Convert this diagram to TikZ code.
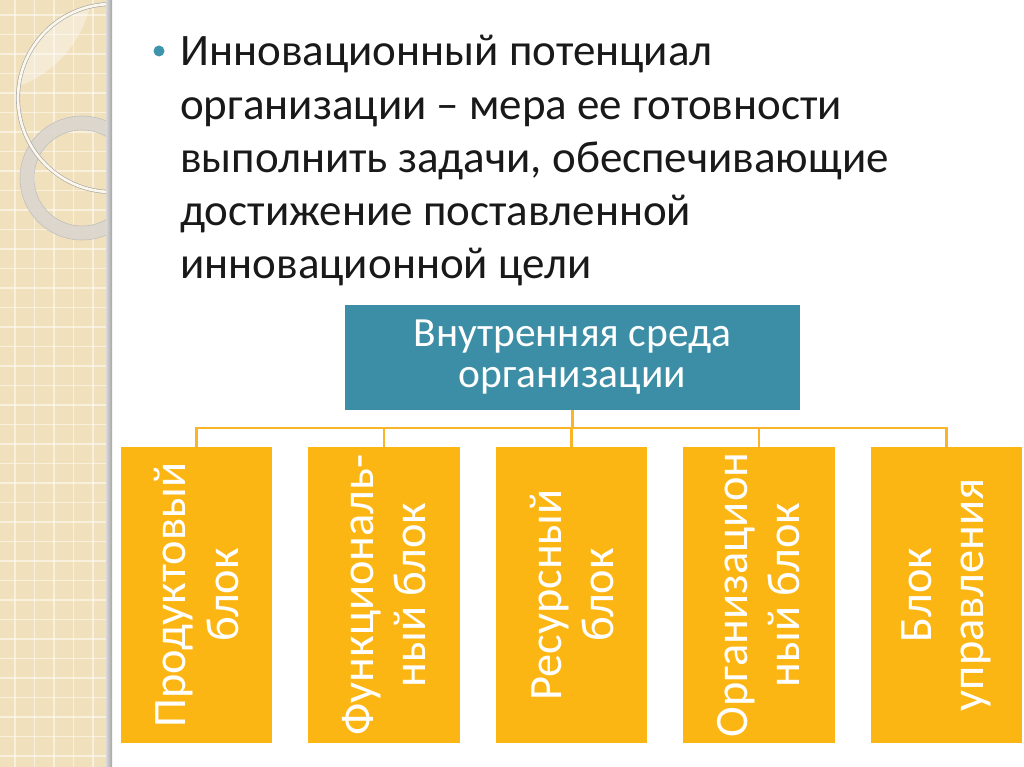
\documentclass[tikz,border=0pt]{standalone}
\usepackage{fontspec}
\setmainfont{Carlito}

\definecolor{envteal}{RGB}{59,142,165}
\definecolor{bulletteal}{RGB}{62,148,172}
\definecolor{blockgold}{RGB}{252,182,20}
\definecolor{linkgold}{RGB}{250,180,40}
\definecolor{stripbeige}{RGB}{241,224,188}
\definecolor{ringgray}{RGB}{218,214,206}
\definecolor{ringcream}{RGB}{251,247,236}

\begin{document}
\begin{tikzpicture}[x=0.025cm, y=-0.025cm]
    \tikzstyle{block}=[rectangle, fill=blockgold, text=white, rotate=90, minimum width=7.4cm, minimum height=3.775cm, inner sep=0pt, align=flush center, font=\fontsize{33}{37}\selectfont]
    \tikzstyle{env}=[rectangle, fill=envteal, text=white, minimum width=11.375cm, minimum height=2.625cm, inner sep=0pt, align=flush center, font=\fontsize{29.5}{29.2}\selectfont]
    \tikzstyle{defn}=[anchor=base west, inner sep=0pt, text width=20cm, align=flush left, text=black!90, font=\fontsize{32}{37.7}\selectfont]
    \tikzstyle{link}=[draw=linkgold, line width=1.8pt]

    \useasboundingbox (0,0) rectangle (1024,767);
    \fill[white] (0,0) rectangle (1024,767);

    % Decorative strip on the left
    \begin{scope}
        \clip (0,0) rectangle (110,767);
        \fill[stripbeige] (0,0) rectangle (110,767);
        \foreach \g in {15,34.5,...,800} {
            \draw[white, opacity=0.5, line width=0.8pt] (\g,0) -- (\g,767);
            \draw[white, opacity=0.5, line width=0.8pt] (0,\g) -- (110,\g);
        }
        \begin{scope}
            \clip (112,98) circle[radius=94];
            \fill[white, opacity=0.35] (-20,-20) circle[radius=113];
        \end{scope}
        \draw[ringgray, opacity=0.9, line width=10pt] (82,178) circle[radius=55];
        \draw[black!25, line width=0.4pt] (82,178) circle[radius=62];
        \draw[black!25, line width=0.4pt] (82,178) circle[radius=48];
        \draw[black!35, line width=2.8pt] (112,98) circle[radius=94];
        \draw[ringcream, line width=1.9pt] (112,98) circle[radius=94];
    \end{scope}
    \shade[left color=black!15, right color=black!35] (106,0) rectangle (112,767);

    % Bullet text
    \fill[bulletteal] (159,51) circle[radius=5.5];
    \node[defn] (defn) at (180,66) {Инновационный потенциал\\организации – мера ее готовности\\выполнить задачи, обеспечивающие\\достижение поставленной\\инновационной цели};

    % Tree
    \node[env] (env) at (572.5,357.5) {Внутренняя среда\\организации};
    \node[block] (b1) at (196.5,595) {Продуктовый\\блок};
    \node[block] (b2) at (384,595) {Функциональ-\\ный блок};
    \node[block] (b3) at (571.5,595) {Ресурсный\\блок};
    \node[block] (b4) at (759,595) {Организацион\\ный блок};
    \node[block] (b5) at (946.5,595) {Блок\\управления};

    \coordinate (bus) at (572.5,428);
    \draw[link] (env.south) -- (bus);
    \foreach \i in {1,...,5}
        \draw[link] (bus) -| (b\i.east);
\end{tikzpicture}
\end{document}
